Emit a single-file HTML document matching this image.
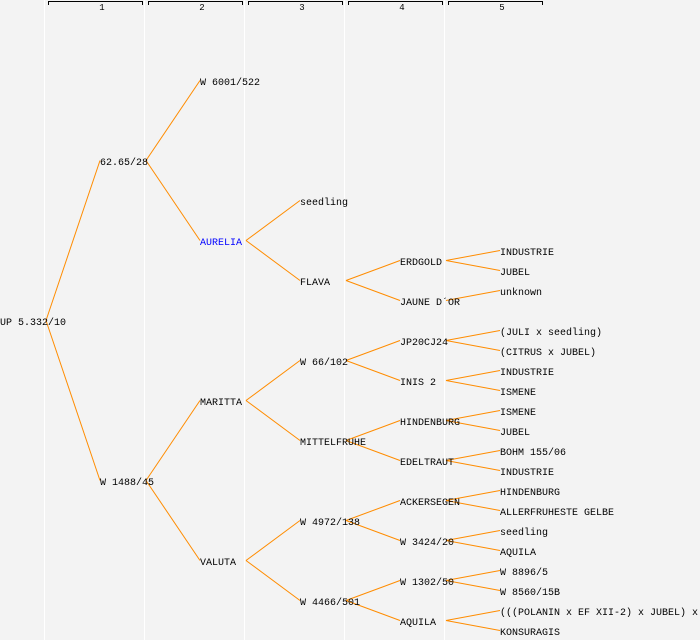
<!DOCTYPE html>
<html><head><meta charset="utf-8"><style>
html,body{margin:0;padding:0;background:#f3f3f3;}
svg{display:block;}
text{font-family:"Liberation Mono",monospace;font-size:10px;fill:#000;}
</style></head><body>
<svg width="700" height="640" viewBox="0 0 700 640" xmlns="http://www.w3.org/2000/svg">
<rect width="700" height="640" fill="#f3f3f3"/>
<g stroke="#ffffff" stroke-width="1">
<line x1="44.5" y1="0" x2="44.5" y2="640"/><line x1="144.5" y1="0" x2="144.5" y2="640"/><line x1="244.5" y1="0" x2="244.5" y2="640"/><line x1="344.5" y1="0" x2="344.5" y2="640"/><line x1="444.5" y1="0" x2="444.5" y2="640"/>
</g>
<g stroke="#000" stroke-width="1" fill="none">
<path d="M48.5,5 V1.5 H142.5 V5"/><path d="M148.5,5 V1.5 H242.5 V5"/><path d="M248.5,5 V1.5 H342.5 V5"/><path d="M348.5,5 V1.5 H442.5 V5"/><path d="M448.5,5 V1.5 H542.5 V5"/>
</g>
<g text-anchor="middle">
<text x="102" y="10" style="font-size:9px">1</text><text x="202" y="10" style="font-size:9px">2</text><text x="302" y="10" style="font-size:9px">3</text><text x="402" y="10" style="font-size:9px">4</text><text x="502" y="10" style="font-size:9px">5</text>
</g>
<g id="lines" stroke="#ff8c00" stroke-width="1" fill="none"></g>
<g id="labels"></g>
<script>
var tree=["UP 5.332/10",322,[
 ["62.65/28",162,[["W 6001/522",82,[]],["AURELIA",242,[["seedling",202,[]],["FLAVA",282,[["ERDGOLD",262,[["INDUSTRIE",252,[]],["JUBEL",272,[]]]],["JAUNE D\u00B4OR",302,[["unknown",292,[]]]]]]]]]],
 ["W 1488/45",482,[
  ["MARITTA",402,[["W 66/102",362,[["JP20CJ24",342,[["(JULI x seedling)",332,[]],["(CITRUS x JUBEL)",352,[]]]],["INIS 2",382,[["INDUSTRIE",372,[]],["ISMENE",392,[]]]]]],
                 ["MITTELFRUHE",442,[["HINDENBURG",422,[["ISMENE",412,[]],["JUBEL",432,[]]]],["EDELTRAUT",462,[["BOHM 155/06",452,[]],["INDUSTRIE",472,[]]]]]]]],
  ["VALUTA",562,[["W 4972/138",522,[["ACKERSEGEN",502,[["HINDENBURG",492,[]],["ALLERFRUHESTE GELBE",512,[]]]],["W 3424/20",542,[["seedling",532,[]],["AQUILA",552,[]]]]]],
                ["W 4466/501",602,[["W 1302/50",582,[["W 8896/5",572,[]],["W 8560/15B",592,[]]]],["AQUILA",622,[["(((POLANIN x EF XII-2) x JUBEL) x",612,[]],["KONSURAGIS",632,[]]]]]]]]]]]];
var NS="http://www.w3.org/2000/svg",L=document.getElementById("lines"),T=document.getElementById("labels");
function draw(n,d){var x=d*100,y=n[1];
 var t=document.createElementNS(NS,"text");t.setAttribute("x",x);t.setAttribute("y",y+3);t.textContent=n[0];
 if(n[0]==="AURELIA")t.setAttribute("style","fill:#0000ff");T.appendChild(t);
 n[2].forEach(function(c){var l=document.createElementNS(NS,"line");l.setAttribute("x1",x+46);l.setAttribute("y1",y-1.5);l.setAttribute("x2",x+100);l.setAttribute("y2",c[1]-1.5);L.appendChild(l);draw(c,d+1);});}
draw(tree,0);
</script>
</svg>
</body></html>
